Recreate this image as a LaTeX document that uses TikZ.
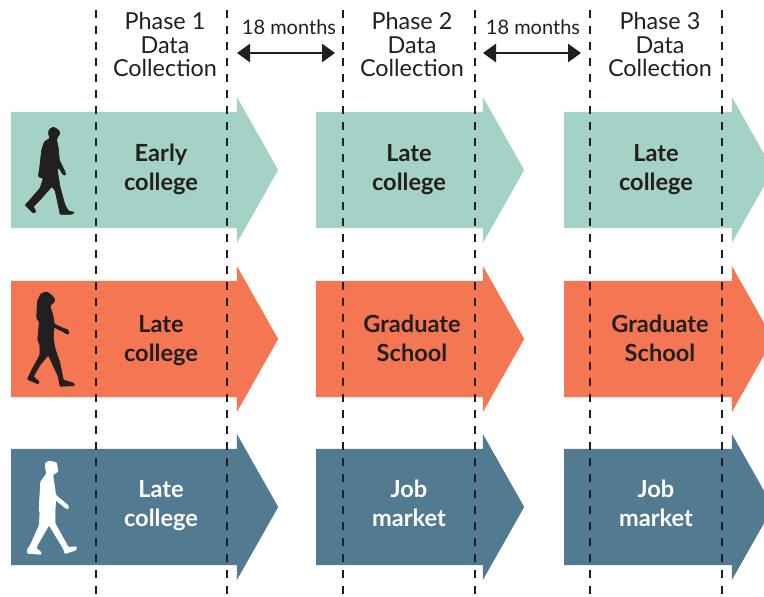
\documentclass[tikz,border=0pt]{standalone}
\usepackage{fontspec}
\setmainfont{Lato}
\usetikzlibrary{arrows.meta,shapes.arrows}
\definecolor{myteal}{RGB}{164,210,199}
\definecolor{myorange}{RGB}{244,118,82}
\definecolor{myblue}{RGB}{82,122,144}
\definecolor{myink}{RGB}{35,31,32}
\tikzset{
  phasearrow/.style={single arrow,draw=none,fill=#1,inner xsep=0pt,inner ysep=58pt,anchor=tail,
    minimum width=146pt,single arrow head extend=15pt,single arrow tip angle=121},
  stagetext/.style={align=center,font=\fontsize{23.6}{29}\selectfont\bfseries},
  headtext/.style={align=center,text=myink,font=\fontsize{23.4}{23.5}\selectfont},
  gaptext/.style={text=myink,font=\fontsize{20}{22}\selectfont},
  phaseline/.style={dashed,dash pattern=on 8pt off 8pt,line width=1.6pt,color=myink},
  gaparrow/.style={{Triangle[length=13pt,width=18pt]}-{Triangle[length=13pt,width=18pt]},line width=2.8pt,color=myink},
  walker/.style={draw=#1,fill=#1,line width=0.6pt,rounded corners=1pt}
}

\begin{document}
\begin{tikzpicture}[x=1pt,y=-1pt]
  \useasboundingbox (0,0) rectangle (764,597);
  \clip (0,0) rectangle (764,597);

  \foreach \r/\y/\c in {1/170/myteal, 2/339/myorange, 3/507/myblue}
  {
    \node[phasearrow=\c,minimum height=267pt] (arrow\r a) at (11,\y) {};
    \node[phasearrow=\c,minimum height=208pt] (arrow\r b) at (316,\y) {};
    \node[phasearrow=\c,minimum height=209pt] (arrow\r c) at (564,\y) {};
  }

  \foreach \n/\x/\y/\t/\c in {
    1a/161/169/{Early\\college}/myink, 1b/409/170/{Late\\college}/myink, 1c/656/170/{Late\\college}/myink,
    2a/161/341/{Late\\college}/myink, 2b/412/338.5/{Graduate\\School}/myink, 2c/660/338.5/{Graduate\\School}/myink,
    3a/161/506/{Late\\college}/white, 3b/409/503.5/{Job\\market}/white, 3c/656/503.5/{Job\\market}/white}
    \node[stagetext,text=\c] (stage\n) at (\x,\y) {\t};

  \path[walker=myink,shift={(0,90)},scale=1/3] (160,111) -- (176,120) -- (180,130) -- (172,143) -- (170,150)
    -- (175,175) -- (178,210) -- (195,245) -- (198,255) -- (190,255) -- (175,232) -- (172,240) -- (180,290)
    -- (195,345) -- (205,363) -- (224,367) -- (215,373) -- (180,373) -- (178,360) -- (165,300) -- (155,290)
    -- (120,330) -- (100,350) -- (108,365) -- (100,370) -- (75,345) -- (85,335) -- (120,295) -- (130,265)
    -- (115,260) -- (120,225) -- (125,180) -- (133,155) -- (150,145) -- (145,130) -- (148,118) -- cycle;
  \path[walker=myink,shift={(0,270)},scale=1/3] (140,65) -- (160,80) -- (165,92) -- (158,100) -- (150,108)
    -- (160,140) -- (163,162) -- (190,175) -- (205,180) -- (207,192) -- (200,192) -- (190,185) -- (162,172)
    -- (160,205) -- (165,235) -- (180,280) -- (190,330) -- (222,340) -- (224,347) -- (180,349) -- (175,320)
    -- (145,255) -- (120,285) -- (100,320) -- (118,335) -- (115,342) -- (82,328) -- (95,300) -- (120,255)
    -- (120,225) -- (113,210) -- (118,155) -- (110,145) -- (112,95) -- (122,72) -- cycle;
  \path[walker=white,shift={(0,440)},scale=1/3] (150,63) -- (170,68) -- (172,85) -- (175,92) -- (170,97)
    -- (158,105) -- (160,115) -- (167,165) -- (205,197) -- (205,207) -- (198,205) -- (167,180) -- (165,215)
    -- (165,250) -- (205,322) -- (230,320) -- (228,330) -- (195,341) -- (190,325) -- (147,255) -- (115,310)
    -- (108,325) -- (122,335) -- (124,343) -- (82,340) -- (82,328) -- (90,318) -- (118,255) -- (120,215)
    -- (117,212) -- (122,125) -- (135,108) -- (140,100) -- (135,75) -- (138,67) -- cycle;

  \foreach \n/\x in {a/96, b/227, c/343, d/475, e/590, f/722}
  {
    \coordinate (top\n) at (\x,10);
    \coordinate (bottom\n) at (\x,597);
    \draw[phaseline] (top\n) -- (bottom\n);
  }

  \foreach \n/\x in {1/165, 2/412, 3/660}
    \node[headtext] (phase\n) at (\x,44.5) {Phase \n\\Data\\Collection};

  \foreach \n/\x/\a/\b in {1/289/237/335, 2/533/483/581}
  {
    \node[gaptext] (gap\n) at (\x,27) {18 months};
    \coordinate (gapstart\n) at (\a,53);
    \coordinate (gapend\n) at (\b,53);
    \draw[gaparrow] (gapstart\n) -- (gapend\n);
  }
\end{tikzpicture}
\end{document}
